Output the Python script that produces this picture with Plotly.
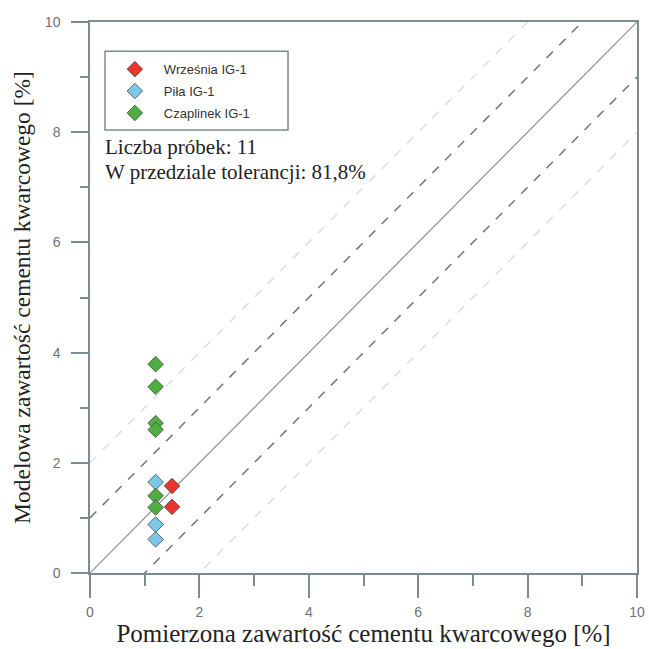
import plotly.graph_objects as go

series_names = ["Września IG-1", "Piła IG-1", "Czaplinek IG-1"]
wrzesnia_x = [1.5, 1.5]
wrzesnia_y = [1.58, 1.2]
pila_x = [1.2, 1.2, 1.2]
pila_y = [1.65, 0.88, 0.61]
czaplinek_x = [1.2, 1.2, 1.2, 1.2, 1.2, 1.2]
czaplinek_y = [3.79, 3.38, 2.72, 2.6, 1.4, 1.19]
colors = ["#e8352d", "#7cc8ea", "#4caf3f"]

line_x = [0, 10]
offsets = [0, 1, -1, 2, -2]

axis_col = "#7c8a94"
serif = "Liberation Serif, Times New Roman, serif"
sans = "Liberation Sans, Arial, sans-serif"
fig = go.Figure()

# reference lines (1:1 and tolerance bands)
for off in offsets:
    if off == 0:
        dash, col, w = "solid", "#8a9096", 1.2
    elif abs(off) == 1:
        dash, col, w = "dash", "#6e757b", 1.5
    else:
        dash, col, w = "dash", "#dadfe2", 1.5
    fig.add_trace(go.Scatter(x=line_x, y=[v + off for v in line_x], mode="lines",
                             line=dict(color=col, width=w, dash=dash),
                             showlegend=False, hoverinfo="skip"))

for i, (name, xs, ys, c) in enumerate(zip(series_names, [wrzesnia_x, pila_x, czaplinek_x],
                                          [wrzesnia_y, pila_y, czaplinek_y], colors)):
    fig.add_trace(go.Scatter(x=xs, y=ys, mode="markers", name=name, legendgroup=f"g{i}",
                             marker=dict(symbol="diamond", size=12, color=c,
                                         line=dict(color="#4a4a4a", width=0.8)),
                             cliponaxis=False))

fig.update_layout(
    width=649, height=649,
    margin=dict(l=90, r=12, t=22, b=76),
    paper_bgcolor="white", plot_bgcolor="white",
    showlegend=True,
    legend=dict(x=0.029, y=0.951, xanchor="left", yanchor="top",
                borderwidth=0,
                font=dict(family=sans, size=13, color="#333333"),
                itemwidth=48, tracegroupgap=2,
                title=dict(text=" ", font=dict(size=4)),
                bgcolor="rgba(0,0,0,0)"),
    font=dict(family=sans),
)

# legend frame
fig.add_shape(type="rect", xref="paper", yref="paper", x0=0.0274, x1=0.362, y0=0.804, y1=0.947,
              line=dict(color=axis_col, width=1.5), fillcolor="white", layer="above")

fig.update_xaxes(range=[0, 10], tickvals=[0, 2, 4, 6, 8, 10], showgrid=False, zeroline=False,
                 automargin=False,
                 showline=True, linecolor=axis_col, linewidth=1.5, mirror=True,
                 ticks="outside", ticklen=23, tickwidth=1.5, tickcolor=axis_col,
                 ticklabelstandoff=2,
                 minor=dict(tickvals=[1, 3, 5, 7, 9], ticks="outside", ticklen=11,
                            tickwidth=1.5, tickcolor=axis_col),
                 tickfont=dict(family=sans, size=14, color="#707070"),
                 title=dict(text="Pomierzona zawartość cementu kwarcowego [%]",
                            font=dict(family=serif, size=25, color="#222222"),
                            standoff=2))
fig.update_yaxes(range=[0, 10], tickvals=[0, 2, 4, 6, 8, 10], showgrid=False, zeroline=False,
                 automargin=False,
                 showline=True, linecolor=axis_col, linewidth=1.5, mirror=True,
                 ticks="outside", ticklen=17, tickwidth=1.5, tickcolor=axis_col,
                 ticklabelstandoff=8,
                 minor=dict(tickvals=[1, 3, 5, 7, 9], ticks="outside", ticklen=8,
                            tickwidth=1.5, tickcolor=axis_col),
                 tickfont=dict(family=sans, size=14, color="#707070"),
                 title=dict(text="Modelowa zawartość cementu kwarcowego [%]",
                            font=dict(family=serif, size=23.5, color="#222222"),
                            standoff=8))

fig.add_annotation(x=0.024, y=0.773, xref="paper", yref="paper", xanchor="left", yanchor="middle",
                   text="Liczba próbek: 11", showarrow=False,
                   font=dict(family=serif, size=21, color="#222222"))
fig.add_annotation(x=0.024, y=0.727, xref="paper", yref="paper", xanchor="left", yanchor="middle",
                   text="W przedziale tolerancji: 81,8%", showarrow=False,
                   font=dict(family=serif, size=21, color="#222222"))

fig.write_html("out.html")
